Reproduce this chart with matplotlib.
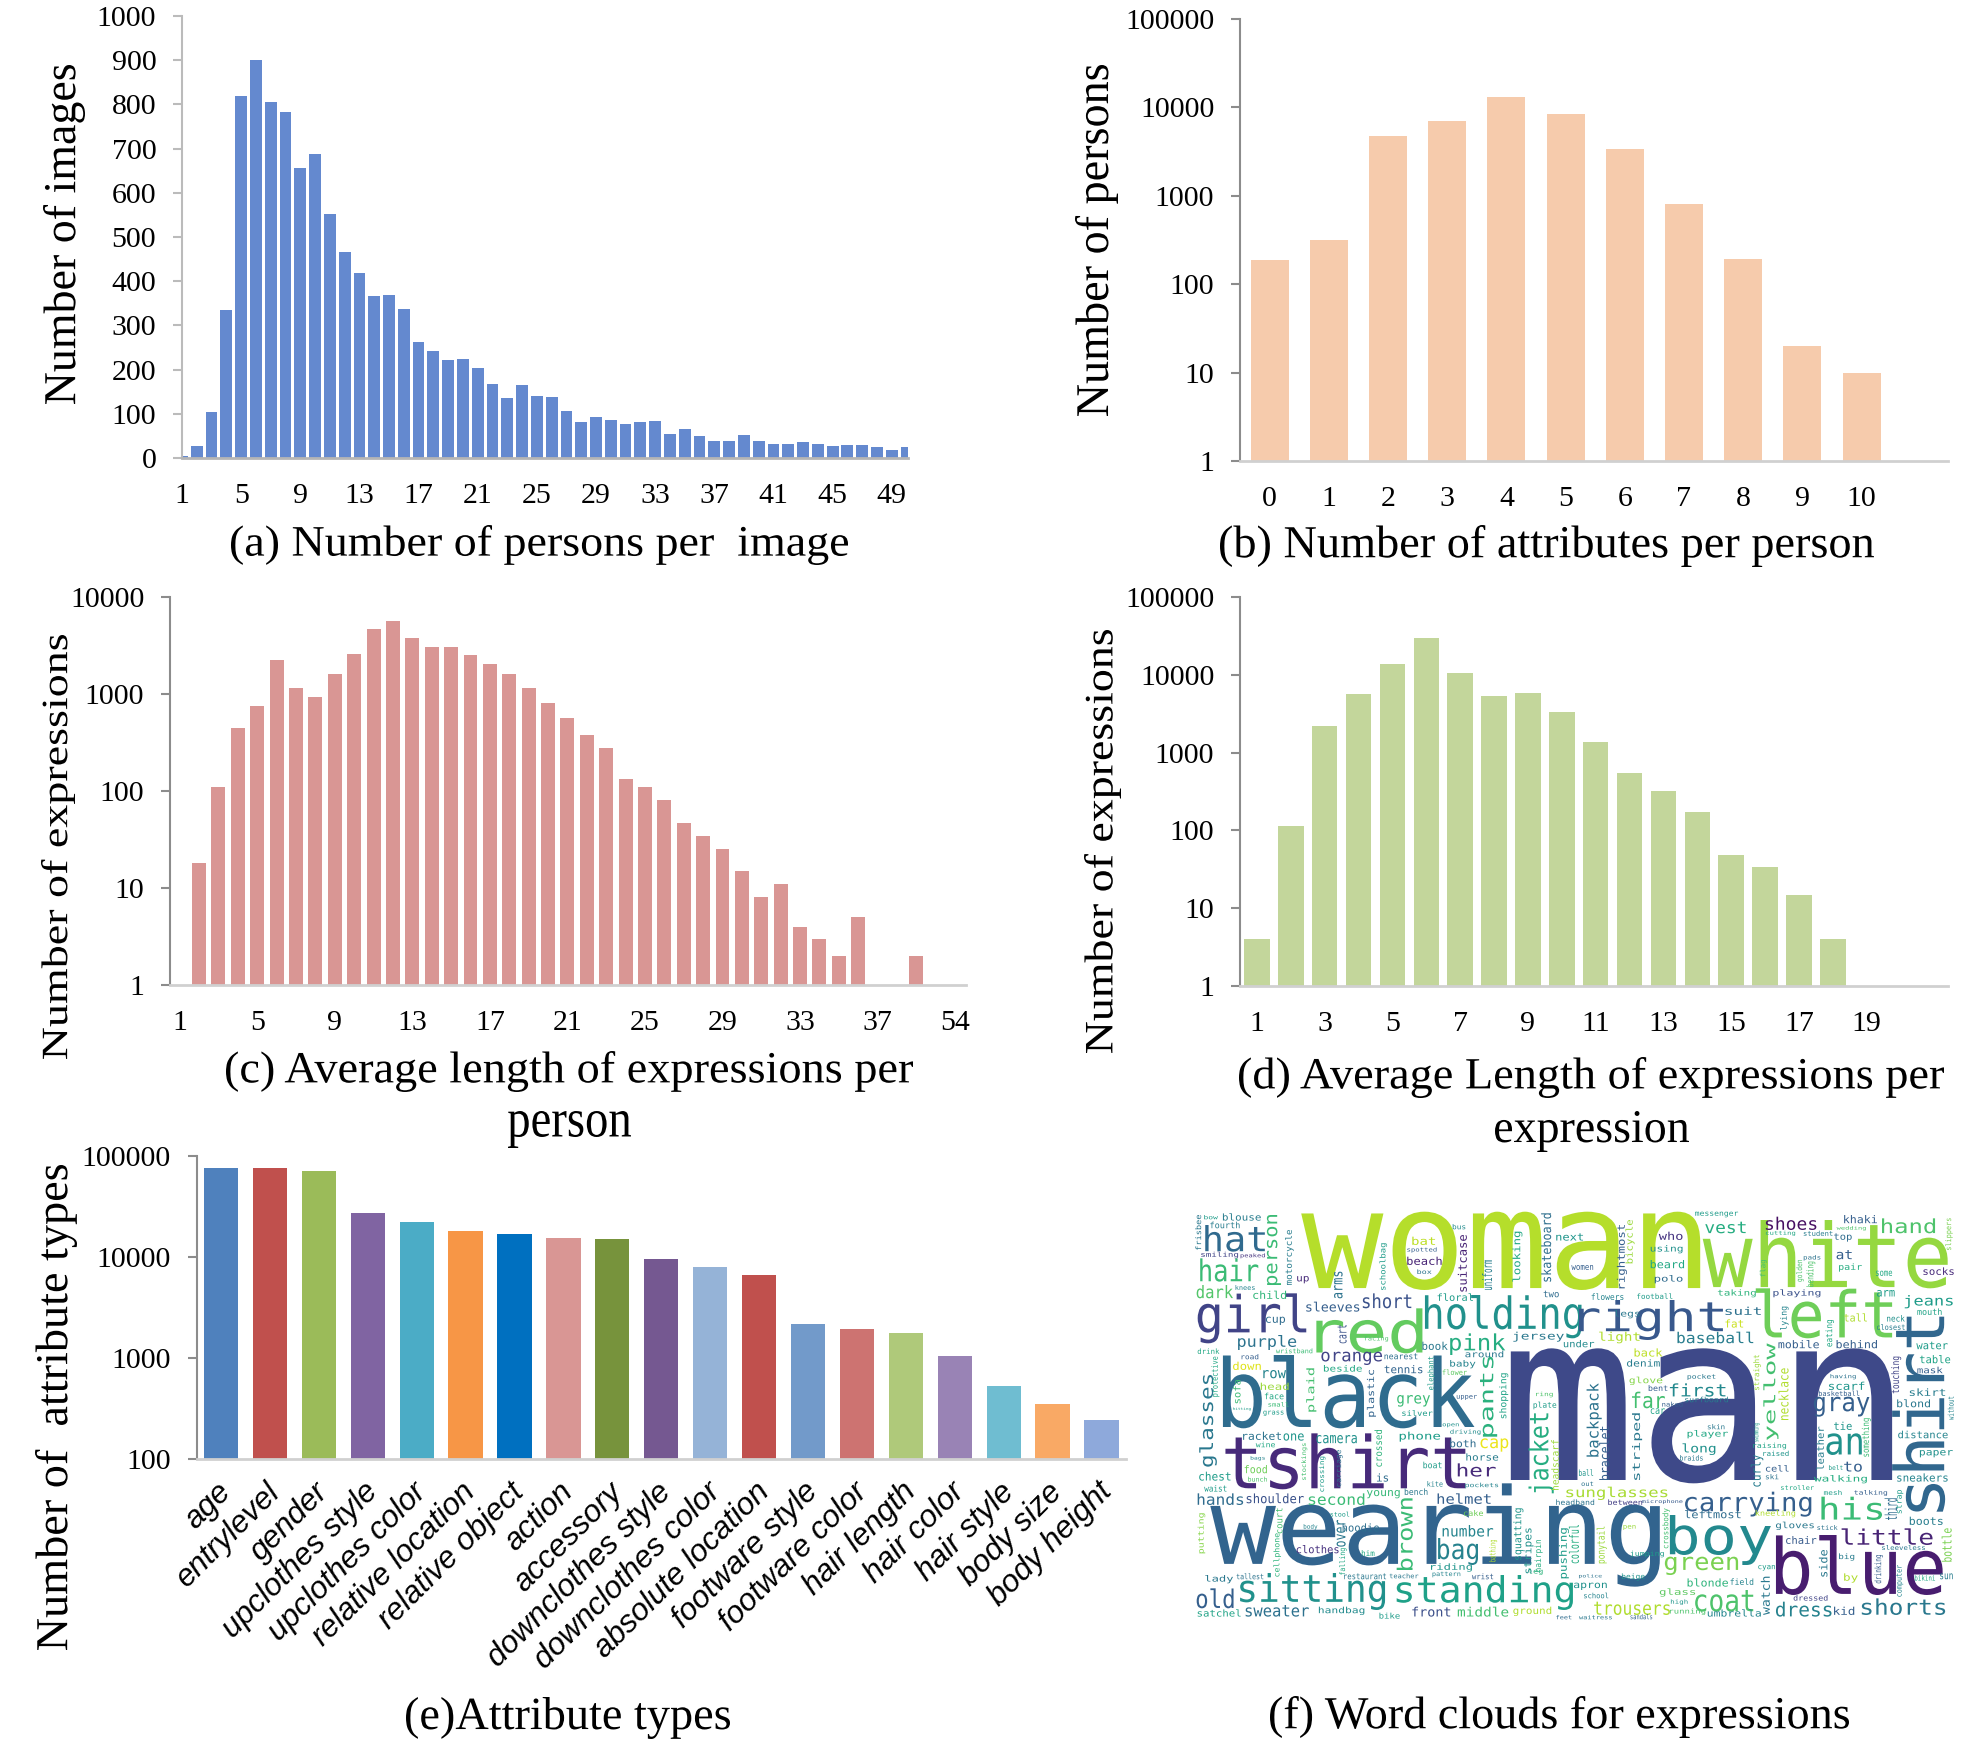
import matplotlib
matplotlib.use('Agg')
import matplotlib.pyplot as plt
from matplotlib.font_manager import FontProperties
from matplotlib.patheffects import AbstractPathEffect
from matplotlib.textpath import TextPath
from matplotlib.transforms import Affine2D, ScaledTranslation

W, H, DPI = 1972, 1752, 100
SERIF = 'Liberation Serif'
MONO = 'DejaVu Sans Mono'

# (a) persons per image
persons_x = list(range(1, 51))
persons_y = [5, 28, 103, 335, 818, 900, 805, 782, 655, 688, 552, 465, 418, 367, 368, 337, 263,
             243, 222, 224, 203, 167, 136, 166, 140, 138, 107, 82, 92, 87, 78, 82, 84, 55, 65,
             50, 38, 38, 52, 38, 32, 32, 36, 32, 28, 30, 30, 26, 18, 24]
persons_ticks = list(range(1, 50, 4))

# (b) attributes per person
attrs_x = list(range(0, 11))
attrs_y = [190, 320, 4800, 7000, 13000, 8500, 3400, 800, 195, 20, 10]

# (c) average length per person, position 41 is labelled 54 in the source
len_person_x = list(range(2, 37)) + [39]
len_person_y = [18, 110, 450, 750, 2250, 1150, 930, 1600, 2600, 4700, 5700, 3800, 3050, 3050,
                2500, 2050, 1600, 1150, 800, 560, 380, 275, 132, 110, 80, 47, 34, 25, 15, 8,
                11, 4, 3, 2, 5, 2]
len_person_ticks = list(range(1, 42, 4))
len_person_labels = ['1', '5', '9', '13', '17', '21', '25', '29', '33', '37', '54']

# (d) average length per expression
len_expr_x = list(range(1, 19))
len_expr_y = [4, 115, 2200, 5600, 13800, 30000, 10500, 5300, 5800, 3300, 1350, 540, 320, 170,
              49, 34, 15, 4]
len_expr_ticks = list(range(1, 20, 2))

# (e) attribute types
attr_names = ['age', 'entrylevel', 'gender', 'upclothes style', 'upclothes color',
              'relative location', 'relative object', 'action', 'accessory',
              'downclothes style', 'downclothes color', 'absolute location', 'footware style',
              'footware color', 'hair length', 'hair color', 'hair style', 'body size',
              'body height']
attr_counts = [76000, 76000, 71000, 27500, 22000, 18000, 16800, 15300, 15000, 9500, 8000, 6600,
               2150, 1950, 1750, 1050, 530, 350, 245]
attr_colors = ['#4F81BD', '#C0504D', '#9BBB59', '#8064A2', '#4BACC6', '#F79646', '#0070C0',
               '#D99694', '#77933C', '#755891', '#95B3D7', '#C0504D', '#729ACA', '#CD7371',
               '#AFC97A', '#9983B5', '#6FBDD1', '#F9A965', '#8EA9DB']

# (f) word cloud: word, ink box in crop coordinates, viridis shade
cloud_across = [
    ('man', 655, 445, 1410, 850, .22), ('woman', 240, 35, 1030, 270, .89),
    ('white', 1035, 60, 1520, 265, .84), ('wearing', 60, 850, 950, 1160, .32),
    ('black', 85, 465, 583, 685, .35), ('tshirt', 90, 700, 565, 868, .12),
    ('blue', 1180, 1005, 1510, 1185, .08), ('boy', 970, 945, 1170, 1095, .47),
    ('girl', 35, 280, 250, 430, .2), ('red', 270, 325, 480, 460, .76),
    ('holding', 485, 285, 795, 415, .5), ('right', 790, 300, 1075, 420, .27),
    ('left', 1140, 265, 1410, 415, .78), ('hat', 50, 75, 168, 155, .34),
    ('hair', 40, 175, 155, 245, .68), ('sitting', 119, 1119, 406, 1230, .5),
    ('standing', 429, 1125, 778, 1230, .57), ('carrying', 1000, 875, 1250, 950, .3),
    ('his', 1270, 890, 1390, 960, .68), ('little', 1310, 985, 1490, 1035, .1),
    ('green', 960, 1070, 1105, 1125, .8), ('coat', 1020, 1170, 1135, 1235, .72),
    ('shorts', 1350, 1195, 1515, 1245, .4), ('dress', 1180, 1205, 1290, 1250, .44),
    ('old', 33, 1165, 106, 1225, .3), ('sweater', 130, 1215, 255, 1250, .37),
    ('front', 460, 1220, 535, 1250, .24), ('middle', 550, 1220, 650, 1250, .7),
    ('trousers', 820, 1205, 970, 1245, .88), ('sunglasses', 765, 860, 965, 900, .87),
    ('pink', 535, 400, 644, 465, .62), ('baseball', 985, 395, 1135, 430, .42),
    ('an', 1280, 700, 1350, 765, .5), ('gray', 1255, 590, 1365, 650, .3),
    ('first', 970, 550, 1080, 590, .47), ('far', 895, 575, 960, 625, .7),
    ('jeans', 1435, 285, 1530, 325, .55), ('hand', 1390, 55, 1495, 100, .72),
    ('shoes', 1160, 50, 1260, 90, .04), ('vest', 1040, 65, 1120, 100, .62),
    ('suit', 1080, 320, 1150, 345, .37), ('short', 362, 280, 458, 325, .25),
    ('sleeves', 250, 305, 355, 335, .3), ('purple', 115, 405, 230, 450, .38),
    ('dark', 33, 255, 105, 295, .73), ('orange', 280, 455, 400, 495, .2),
    ('row', 165, 510, 210, 535, .45), ('head', 160, 548, 215, 570, .85),
    ('down', 105, 485, 160, 510, .95), ('grey', 430, 585, 495, 620, .68),
    ('silver', 440, 630, 500, 648, .55), ('phone', 435, 695, 515, 725, .55),
    ('camera', 270, 705, 350, 730, .5), ('racket', 125, 695, 200, 720, .38),
    ('one', 205, 700, 245, 722, .52), ('cap', 595, 715, 650, 755, .97),
    ('her', 550, 790, 625, 830, .12), ('horse', 567, 760, 630, 782, .42),
    ('both', 535, 718, 585, 742, .35), ('hands', 35, 880, 125, 915, .35),
    ('shoulder', 132, 880, 245, 910, .25), ('second', 255, 880, 365, 915, .68),
    ('young', 370, 870, 435, 895, .67), ('bench', 445, 865, 490, 885, .4),
    ('helmet', 510, 880, 615, 912, .3), ('number', 520, 975, 620, 1010, .45),
    ('bag', 511, 1014, 590, 1095, .44), ('riding', 497, 1090, 578, 1115, .52),
    ('clothes', 231, 1035, 314, 1060, .14), ('hoodie', 322, 970, 394, 995, .36),
    ('lady', 50, 1125, 105, 1150, .4), ('satchel', 35, 1228, 120, 1250, .58),
    ('handbag', 275, 1220, 365, 1245, .48), ('ground', 660, 1220, 735, 1248, .88),
    ('umbrella', 1045, 1228, 1150, 1250, .46), ('leftmost', 1000, 930, 1110, 955, .35),
    ('gloves', 1180, 965, 1255, 990, .4), ('chair', 1200, 1008, 1260, 1032, .28),
    ('kid', 1295, 1220, 1335, 1245, .3), ('blonde', 1005, 1135, 1085, 1160, .65),
    ('glass', 950, 1165, 1020, 1190, .75), ('apron', 780, 1148, 845, 1170, .5),
    ('boots', 1445, 950, 1510, 975, .42), ('sneakers', 1420, 820, 1520, 845, .45),
    ('walking', 1255, 825, 1360, 850, .62), ('to', 1315, 785, 1350, 815, .3),
    ('cell', 1160, 795, 1205, 815, .3), ('long', 995, 730, 1060, 765, .5),
    ('player', 1005, 690, 1085, 715, .6), ('glove', 890, 530, 955, 555, .82),
    ('back', 900, 445, 955, 470, .9), ('denim', 885, 478, 950, 500, .42),
    ('light', 830, 395, 910, 430, .88), ('under', 760, 420, 820, 442, .48),
    ('jersey', 660, 395, 760, 425, .4), ('behind', 1300, 420, 1380, 445, .3),
    ('mobile', 1185, 420, 1265, 445, .3), ('water', 1458, 425, 1520, 448, .55),
    ('table', 1465, 465, 1525, 490, .58), ('mask', 1460, 500, 1510, 520, .3),
    ('skirt', 1445, 565, 1515, 588, .42), ('blond', 1420, 598, 1485, 622, .4),
    ('distance', 1422, 692, 1520, 715, .45), ('paper', 1465, 750, 1530, 772, .5),
    ('tie', 1295, 665, 1330, 690, .52), ('scarf', 1285, 545, 1355, 570, .52),
    ('pocket', 1005, 522, 1060, 540, .4), ('surfboard', 1000, 590, 1085, 607, .42),
    ('tennis', 405, 495, 480, 520, .32), ('nearest', 405, 460, 470, 478, .36),
    ('beside', 285, 495, 360, 515, .6), ('baby', 535, 480, 585, 505, .45),
    ('around', 565, 452, 640, 472, .4), ('book', 480, 425, 530, 450, .4),
    ('legs', 860, 330, 910, 355, .4), ('flowers', 815, 280, 878, 300, .45),
    ('football', 905, 280, 975, 297, .55), ('floral', 510, 280, 580, 303, .55),
    ('child', 145, 272, 210, 297, .66), ('taking', 1065, 268, 1140, 292, .65),
    ('playing', 1175, 268, 1268, 292, .25), ('arm', 1380, 270, 1415, 290, .55),
    ('mouth', 1460, 325, 1508, 345, .58), ('neck', 1400, 345, 1435, 365, .5),
    ('closest', 1380, 372, 1435, 390, .42), ('tall', 1315, 340, 1360, 365, .88),
    ('fat', 1080, 358, 1115, 383, .92), ('pair', 1305, 190, 1350, 215, .62),
    ('at', 1300, 150, 1330, 178, .3), ('top', 1295, 100, 1330, 125, .35),
    ('khaki', 1315, 45, 1380, 70, .3), ('who', 948, 95, 995, 120, .15),
    ('using', 932, 135, 995, 160, .5), ('beard', 932, 180, 998, 205, .6),
    ('polo', 940, 225, 995, 250, .35), ('next', 745, 100, 798, 122, .52),
    ('up', 232, 228, 255, 250, .12), ('bat', 460, 110, 505, 135, .9),
    ('beach', 450, 170, 518, 195, .1), ('box', 470, 208, 498, 222, .38),
    ('blouse', 85, 40, 160, 62, .42), ('fourth', 60, 65, 118, 85, .42),
    ('smiling', 42, 155, 115, 175, .2), ('peaked', 120, 160, 168, 175, .15),
    ('two', 720, 272, 750, 292, .35), ('cup', 170, 350, 208, 375, .35),
    ('facing', 365, 408, 412, 425, .72), ('wristband', 190, 445, 262, 460, .68),
    ('drink', 35, 445, 78, 462, .6), ('knees', 110, 255, 148, 270, .45),
    ('road', 122, 462, 155, 478, .3), ('face', 168, 578, 205, 598, .6),
    ('small', 175, 606, 215, 620, .68), ('grass', 165, 632, 205, 648, .55),
    ('food', 128, 795, 172, 820, .78), ('chest', 38, 815, 100, 842, .55),
    ('waist', 48, 855, 92, 875, .55), ('wine', 150, 725, 188, 742, .6),
    ('bags', 140, 768, 168, 782, .45), ('bunch', 135, 830, 172, 845, .72),
    ('is', 390, 820, 412, 845, .35), ('stool', 298, 935, 335, 950, .55),
    ('body', 245, 972, 272, 990, .45), ('him', 360, 1050, 385, 1068, .6),
    ('boat', 482, 785, 518, 805, .55), ('kite', 490, 843, 520, 860, .45),
    ('pockets', 565, 848, 630, 865, .45), ('ring', 705, 575, 738, 592, .72),
    ('plate', 700, 605, 745, 628, .55), ('headband', 745, 898, 820, 915, .38),
    ('between', 848, 898, 915, 915, .18), ('microphone', 915, 898, 995, 912, .28),
    ('ball', 790, 808, 818, 828, .52), ('jumping', 892, 1052, 958, 1072, .55),
    ('police', 790, 1122, 835, 1135, .38), ('beige', 875, 1120, 920, 1142, .5),
    ('school', 800, 1178, 848, 1195, .45), ('pattern', 500, 1115, 555, 1132, .45),
    ('wrist', 578, 1120, 620, 1138, .3), ('teacher', 415, 1120, 472, 1135, .4),
    ('restaurant', 325, 1120, 408, 1138, .4), ('tallest', 112, 1120, 165, 1138, .38),
    ('cake', 562, 930, 600, 948, .78), ('leg', 690, 1105, 718, 1125, .65),
    ('dressed', 1215, 1185, 1282, 1202, .2), ('running', 970, 1225, 1040, 1245, .72),
    ('feet', 745, 1245, 775, 1258, .35), ('waitress', 790, 1245, 855, 1258, .4),
    ('sandals', 892, 1242, 935, 1258, .32), ('bike', 395, 1238, 435, 1256, .55),
    ('field', 1090, 1135, 1135, 1155, .45), ('by', 1315, 1120, 1342, 1148, .88),
    ('sun', 1505, 1120, 1530, 1138, .42), ('high', 972, 1198, 1005, 1215, .52),
    ('big', 1305, 1060, 1335, 1082, .42), ('cyan', 1145, 1095, 1178, 1112, .55),
    ('kneeling', 1140, 930, 1218, 952, .88), ('stick', 1262, 975, 1302, 990, .38),
    ('sleeveless', 1390, 1035, 1475, 1050, .4), ('bikini', 1455, 1125, 1495, 1142, .6),
    ('raising', 1135, 728, 1200, 748, .58), ('raised', 1155, 752, 1205, 768, .52),
    ('ski', 1160, 822, 1185, 838, .38), ('belt', 1285, 795, 1312, 810, .55),
    ('mesh', 1275, 870, 1310, 885, .55), ('talking', 1335, 870, 1400, 888, .3),
    ('stroller', 1190, 855, 1255, 870, .6), ('hitting', 105, 622, 140, 632, .55),
    ('flower', 520, 508, 568, 525, .75), ('upper', 548, 585, 588, 600, .3),
    ('open', 520, 670, 552, 682, .5), ('driving', 535, 688, 595, 705, .48),
    ('naked', 955, 605, 995, 620, .3), ('bent', 928, 555, 965, 573, .3),
    ('car', 932, 625, 960, 642, .58), ('having', 1288, 522, 1338, 538, .38),
    ('basketball', 1265, 572, 1345, 588, .3), ('skin', 1045, 672, 1078, 688, .4),
    ('braids', 990, 765, 1035, 782, .4), ('out', 795, 845, 818, 858, .38),
    ('pen', 878, 975, 902, 990, .85), ('some', 1378, 212, 1410, 228, .6),
    ('student', 1235, 92, 1292, 108, .42), ('cutting', 1160, 92, 1218, 108, .6),
    ('messenger', 1020, 35, 1105, 52, .55), ('wedding', 1300, 78, 1358, 92, .72),
    ('pads', 1235, 165, 1268, 182, .38), ('socks', 1472, 202, 1532, 225, .12),
    ('spotted', 450, 142, 508, 158, .3), ('women', 775, 195, 818, 210, .3),
    ('bus', 540, 72, 565, 88, .48), ('bow', 48, 45, 75, 58, .55),
]
cloud_upright = [
    ('shirt', 1410, 350, 1515, 935, .33), ('person', 172, 45, 200, 255, .68),
    ('pants', 594, 470, 628, 710, .64), ('jacket', 690, 640, 740, 880, .62),
    ('backpack', 805, 550, 835, 770, .38), ('yellow', 1155, 430, 1185, 720, .7),
    ('glasses', 38, 525, 73, 800, .4), ('brown', 429, 895, 461, 1110, .68),
    ('plaid', 250, 505, 270, 635, .7), ('putting', 35, 940, 50, 1060, .82),
    ('watch', 1150, 1130, 1168, 1245, .4), ('side', 1265, 1050, 1282, 1130, .4),
    ('third', 1395, 895, 1420, 960, .35), ('curly', 1130, 765, 1155, 860, .42),
    ('necklace', 1185, 505, 1205, 660, .88), ('striped', 895, 640, 915, 840, .4),
    ('bracelet', 830, 680, 850, 840, .3), ('leather', 1260, 680, 1275, 810, .42),
    ('touching', 1408, 470, 1428, 580, .2), ('plastic', 370, 510, 388, 650, .32),
    ('lying', 1188, 320, 1205, 390, .45), ('eating', 1278, 360, 1295, 440, .6),
    ('golden', 1220, 180, 1235, 245, .72), ('motorcycle', 208, 90, 225, 255, .42),
    ('arms', 305, 215, 322, 295, .38), ('schoolbag', 395, 130, 410, 270, .55),
    ('suitcase', 550, 105, 568, 275, .1), ('uniform', 598, 180, 618, 270, .42),
    ('looking', 658, 95, 678, 245, .6), ('skateboard', 715, 40, 735, 245, .36),
    ('rightmost', 865, 75, 885, 265, .3), ('bicycle', 882, 60, 900, 190, .85),
    ('cart', 312, 375, 330, 430, .25), ('crossed', 385, 690, 400, 800, .65),
    ('stockings', 240, 730, 252, 840, .7), ('carriage', 308, 750, 322, 860, .36),
    ('crossing', 275, 770, 288, 875, .55), ('over', 310, 960, 328, 1040, .4),
    ('shopping', 632, 520, 650, 655, .58), ('headscarf', 735, 720, 750, 870, .85),
    ('ponytail', 825, 980, 845, 1090, .85), ('colorful', 770, 975, 790, 1090, .62),
    ('pushing', 750, 985, 770, 1135, .55), ('stripes', 680, 985, 700, 1120, .5),
    ('squatting', 660, 925, 680, 1080, .52), ('hairpin', 702, 1020, 718, 1115, .62),
    ('bottle', 1508, 985, 1528, 1085, .8), ('drinking', 1375, 1065, 1392, 1150, .3),
    ('computer', 1418, 1095, 1432, 1190, .45), ('strap', 1418, 870, 1432, 940, .55),
    ('straight', 1135, 465, 1150, 570, .85), ('elephant', 490, 470, 505, 570, .55),
    ('protective', 62, 470, 78, 590, .6), ('sofa', 105, 540, 120, 610, .68),
    ('bathing', 612, 1020, 628, 1085, .88), ('crossbody', 955, 925, 970, 1045, .7),
    ('cellphone', 185, 1000, 200, 1130, .65), ('court', 190, 925, 203, 1000, .7),
    ('falling', 315, 1045, 330, 1125, .6), ('without', 1520, 590, 1532, 660, .45),
    ('something', 1350, 655, 1368, 770, .68), ('swimming', 1135, 670, 1148, 725, .55),
    ('slippers', 1515, 55, 1530, 150, .8), ('bending', 1240, 185, 1258, 260, .72),
    ('flag', 1148, 180, 1162, 230, .7), ('frisbee', 30, 45, 42, 150, .4),
]

# ink boxes of the long texts, page pixels
captions = [
    ('(a) Number of persons per  image', 231, 525, 848, 565),
    ('(b) Number of attributes per person', 1220, 525, 1874, 567),
    ('(c) Average length of expressions per', 226, 1051, 913, 1092),
    ('person', 508, 1111, 631, 1148),
    ('(d) Average Length of expressions per', 1239, 1057, 1944, 1098),
    ('expression', 1495, 1111, 1689, 1152),
    ('(e)Attribute types', 406, 1697, 730, 1739),
    ('(f) Word clouds for expressions', 1270, 1696, 1849, 1738),
]
y_titles = [
    ('Number of images', 43, 65, 85, 404),
    ('Number of persons', 1075, 65, 1118, 416),
    ('Number of expressions', 41, 635, 75, 1059),
    ('Number of expressions', 1084, 630, 1121, 1053),
    ('Number of  attribute types', 35, 1165, 77, 1650),
]


class Stretch(AbstractPathEffect):
    # the source figure was resized unevenly, glyphs are stretched along their own y
    def __init__(self, sy):
        super().__init__()
        self.sy = sy

    def draw_path(self, renderer, gc, tpath, affine, rgbFace=None):
        renderer.draw_path(gc, tpath, Affine2D().scale(1, self.sy) + affine, rgbFace)


def fit_text(page, text, box, upright=False, family=SERIF, color='black'):
    x0, y0, x1, y1 = box
    ext = TextPath((0, 0), text, size=100, prop=FontProperties(family=family)).get_extents()
    along, across = (y1 - y0, x1 - x0) if upright else (x1 - x0, y1 - y0)
    scale = along / ext.width
    sy = across / (ext.height * scale)
    size = 100 * scale * 72 / DPI
    if upright:
        px, py = x1 + ext.y0 * scale * sy, y1 + ext.x0 * scale
    else:
        px, py = x0 - ext.x0 * scale, y1 + ext.y0 * scale * sy
    t = page.text(px, py, text, family=family, fontsize=size, color=color, ha='left',
                  va='baseline', rotation=90 if upright else 0, rotation_mode='anchor')
    t.set_path_effects([Stretch(sy)])


def bar_panel(box, xlim, ylim, yticks, log=True, axis_colors=('#8C8C8C', '#D0D0D0')):
    left, top, right, bottom = box
    ax = fig.add_axes([left / W, 1 - bottom / H, (right - left) / W, (bottom - top) / H])
    if log:
        ax.set_yscale('log')
    ax.set_xlim(*xlim)
    ax.set_ylim(*ylim)
    ax.set_yticks(yticks, [str(v) for v in yticks])
    ax.minorticks_off()
    ax.patch.set_alpha(0)
    for side in ['top', 'right']:
        ax.spines[side].set_visible(False)
    ax.spines['left'].set_color(axis_colors[0])
    ax.spines['left'].set_linewidth(1.5)
    ax.spines['bottom'].set_color(axis_colors[1])
    ax.spines['bottom'].set_linewidth(2)
    ax.tick_params(axis='y', length=6.5, width=1.5, color=axis_colors[0], pad=12, labelsize=21.5)
    ax.tick_params(axis='x', length=0, pad=18, labelsize=21.5)
    for lab in ax.get_yticklabels() + ax.get_xticklabels():
        lab.set_family(SERIF)
    return ax


fig = plt.figure(figsize=(W / DPI, H / DPI), dpi=DPI)

# (a)
ax = bar_panel((182, 16, 908, 458), (1, 50.1), (0, 1000), list(range(0, 1001, 100)), log=False,
               axis_colors=('#BBBBBB', '#B5B5B5'))
ax.bar(persons_x, persons_y, width=0.8, color='#6489CF')
ax.set_xticks(persons_ticks, [str(v) for v in persons_ticks], family=SERIF)

# (b)
ax = bar_panel((1240, 19, 1948, 461), (-0.5, 11.46), (1, 100000), [1, 10, 100, 1000, 10000, 100000])
ax.bar(attrs_x, attrs_y, width=0.64, color='#F6CBAC')
ax.set_xticks(attrs_x, [str(v) for v in attrs_x], family=SERIF)

# (c)
ax = bar_panel((170, 597, 966, 985), (0.5, 41.56), (1, 10000), [1, 10, 100, 1000, 10000])
ax.bar(len_person_x, len_person_y, width=0.72, color='#D99694')
ax.set_xticks(len_person_ticks, len_person_labels, family=SERIF)

# (d)
ax = bar_panel((1240, 597, 1948, 986), (0.5, 21.4), (1, 100000), [1, 10, 100, 1000, 10000, 100000])
ax.bar(len_expr_x, len_expr_y, width=0.75, color='#C3D69B')
ax.set_xticks(len_expr_ticks, [str(v) for v in len_expr_ticks], family=SERIF)

# (e)
ax = bar_panel((196.5, 1156, 1126, 1459), (-0.5, 18.5), (100, 100000), [100, 1000, 10000, 100000])
ax.bar(range(len(attr_names)), attr_counts, width=0.7, color=attr_colors)
ax.set_xticks(range(len(attr_names)), attr_names, family='Liberation Sans', style='italic',
              fontsize=22.5, rotation=45, ha='right', va='top', rotation_mode='anchor')
ax.tick_params(axis='x', pad=13)
nudge = ScaledTranslation(-5 / DPI, 0, fig.dpi_scale_trans)
for lab in ax.get_xticklabels():
    lab.set_transform(lab.get_transform() + nudge)

# page layer for stretched texts and the word cloud
page = fig.add_axes([0, 0, 1, 1])
page.set_xlim(0, W)
page.set_ylim(H, 0)
page.axis('off')
page.patch.set_alpha(0)

for text, x0, y0, x1, y1 in captions:
    fit_text(page, text, (x0, y0, x1, y1))
for text, x0, y0, x1, y1 in y_titles:
    fit_text(page, text, (x0, y0, x1, y1), upright=True)

# crop coordinates of the cloud to page pixels
cmap = plt.get_cmap('viridis')
for upright, words in [(False, cloud_across), (True, cloud_upright)]:
    for word, x0, y0, x1, y1, shade in words:
        box = (1180 + x0 / 1.98, 1200 + y0 / 3, 1180 + x1 / 1.98, 1200 + y1 / 3)
        fit_text(page, word, box, upright=upright, family=MONO, color=cmap(shade))

plt.savefig('out.png', dpi=DPI, facecolor='white')
